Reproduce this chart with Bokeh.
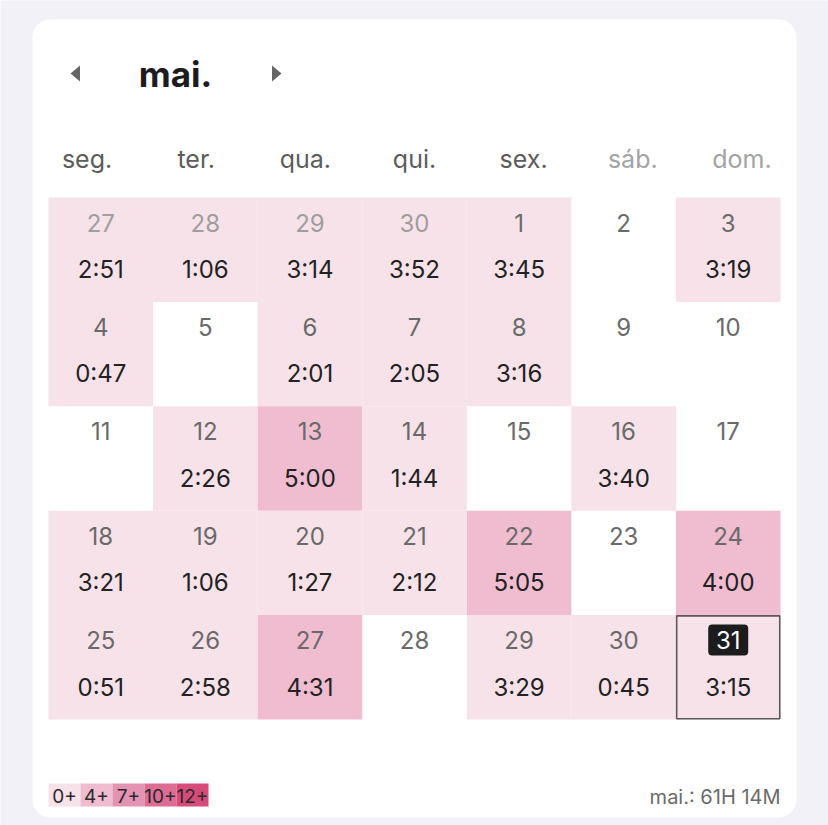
from bokeh.plotting import figure
from bokeh.models import Range1d, ColumnDataSource
from bokeh.core.properties import value
from bokeh.embed import file_html
from bokeh.resources import INLINE

# ---------------- data ----------------
month_label = "mai."
weekdays = ["seg.", "ter.", "qua.", "qui.", "sex.", "sáb.", "dom."]
day_numbers = [
    [27, 28, 29, 30, 1, 2, 3],
    [4, 5, 6, 7, 8, 9, 10],
    [11, 12, 13, 14, 15, 16, 17],
    [18, 19, 20, 21, 22, 23, 24],
    [25, 26, 27, 28, 29, 30, 31],
]
in_month = [
    [False, False, False, False, True, True, True],
    [True] * 7, [True] * 7, [True] * 7, [True] * 7,
]
durations = [
    ["2:51", "1:06", "3:14", "3:52", "3:45", None, "3:19"],
    ["0:47", None, "2:01", "2:05", "3:16", None, None],
    [None, "2:26", "5:00", "1:44", None, "3:40", None],
    ["3:21", "1:06", "1:27", "2:12", "5:05", None, "4:00"],
    ["0:51", "2:58", "4:31", None, "3:29", "0:45", "3:15"],
]
today = (4, 6)
legend_labels = ["0+", "4+", "7+", "10+", "12+"]
legend_thresholds = [0, 4, 7, 10, 12]
legend_colors = ["#f7e2e9", "#efbcd0", "#e493b2", "#dc6c94", "#d74b7b"]
total_label = "mai.: 61H 14M"

# ---------------- layout ----------------
W, H = 828, 825
X0, Y0 = 0, 0
FONT = "Inter"
BG = "#f2f1f7"

p = figure(width=W, height=H, output_backend="svg", toolbar_location=None,
           x_range=Range1d(X0, X0 + W), y_range=Range1d(Y0 + H, Y0),
           min_border=0, background_fill_color=BG, border_fill_color=BG)
p.axis.visible = False
p.grid.visible = False
p.outline_line_color = None

# card
card_l, card_r, card_t, card_b = 32, 796, 19, 817
p.quad(left=[card_l], right=[card_r], top=[card_t], bottom=[card_b],
       fill_color="white", line_color=None, border_radius=18)

grid_l, grid_r, grid_t, grid_b = 48, 780, 197, 719
cw = (grid_r - grid_l) / 7
rh = (grid_b - grid_t) / 5
hw = (card_r - card_l) / 7


def col_x(c):
    return grid_l + cw * (c + 0.5)


def hdr_x(c):
    return card_l + hw * (c + 0.5)


def hours(s):
    h, m = s.split(":")
    return int(h) + int(m) / 60


def color_for(s):
    hv = hours(s)
    col = legend_colors[0]
    for t, c in zip(legend_thresholds, legend_colors):
        if hv >= t:
            col = c
    return col


# header
title_x = 175
p.text(x=[title_x], y=[73], text=[month_label], text_font=value(FONT),
       text_font_size="35px", text_font_style="bold", text_color="#1c1c1e",
       text_align="center", text_baseline="middle")
arrow_y = 73
for ax, d in [(75, -1), (276, 1)]:
    xs = [ax - 4.5 * d, ax - 4.5 * d, ax + 5 * d]
    ys = [arrow_y - 8, arrow_y + 8, arrow_y]
    p.patch(x=xs, y=ys, fill_color="#666666", line_color=None)

hdr_colors = ["#5c5c5c"] * 5 + ["#a3a3a3"] * 2
p.text(x=[hdr_x(i) for i in range(7)], y=[158] * 7, text=weekdays,
       text_font=value(FONT), text_font_size="25px",
       text_color=hdr_colors, text_align="center", text_baseline="middle")

# cells
cx, cy, cc = [], [], []
nx, ny, nt, ncol = [], [], [], []
tx, ty, tt = [], [], []
for r in range(5):
    for c in range(7):
        x = col_x(c)
        top = grid_t + rh * r
        d = durations[r][c]
        if d is not None:
            cx.append(x)
            cy.append(top + rh / 2)
            cc.append(color_for(d))
            tx.append(x)
            ty.append(top + 72)
            tt.append(d)
        if (r, c) != today:
            nx.append(x)
            ny.append(top + 25)
            nt.append(str(day_numbers[r][c]))
            ncol.append("#6a6a6a" if in_month[r][c] else "#9e9e9e")

p.rect(x=cx, y=cy, width=cw, height=rh, fill_color=cc, line_color=None)

# today marker
tr, tc = today
t_top = grid_t + rh * tr
p.rect(x=[col_x(tc)], y=[t_top + rh / 2], width=cw - 1.5, height=rh - 1.5,
       fill_color=None, line_color="#5a5a5a", line_width=1.6)
p.rect(x=[col_x(tc)], y=[t_top + 25], width=40, height=31,
       fill_color="#1c1c1e", line_color=None, border_radius=4)
p.text(x=[col_x(tc)], y=[t_top + 25], text=[str(day_numbers[tr][tc])],
       text_font=value(FONT), text_font_size="24px", text_color="white",
       text_align="center", text_baseline="middle")

p.text(x=nx, y=ny, text=nt, text_font=value(FONT), text_font_size="24px",
       text_color=ncol, text_align="center", text_baseline="middle")
p.text(x=tx, y=ty, text=tt, text_font=value(FONT), text_font_size="24px",
       text_color="#222222", text_align="center", text_baseline="middle")

# legend
lg_l, lg_w, lg_t, lg_b = 48, 32, 783, 806
lsrc = ColumnDataSource(dict(
    left=[lg_l + i * lg_w for i in range(len(legend_labels))],
    right=[lg_l + (i + 1) * lg_w for i in range(len(legend_labels))],
    xc=[lg_l + (i + 0.5) * lg_w for i in range(len(legend_labels))],
    color=legend_colors, label=legend_labels))
p.quad(left="left", right="right", top=lg_t, bottom=lg_b, fill_color="color",
       line_color=None, source=lsrc)
p.text(x="xc", y=(lg_t + lg_b) / 2 + 1, text="label", source=lsrc,
       text_font=value(FONT), text_font_size="19px", text_color="#2a2a2a",
       text_align="center", text_baseline="middle")

p.text(x=[780], y=[796], text=[total_label], text_font=value(FONT),
       text_font_size="20px", text_color="#6a6a6a", text_align="right",
       text_baseline="middle")

open("out.html", "w").write(file_html(p, INLINE))
